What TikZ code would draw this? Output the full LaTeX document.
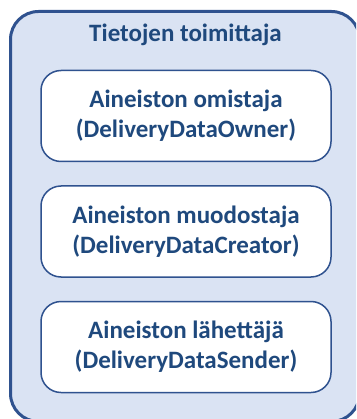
\documentclass[tikz,border=0pt]{standalone}
\usepackage{fontspec}
\setmainfont{Carlito}
\usepackage{tikz}
\usetikzlibrary{positioning}
\definecolor{darkblue}{HTML}{1F497D}
\definecolor{framblue}{HTML}{2F528F}
\definecolor{lightblue}{HTML}{DAE3F3}
\tikzset{
  outerbox/.style={draw=framblue, fill=lightblue, line width=3pt, rounded corners=28pt},
  rolebox/.style={draw=framblue, fill=white, line width=1.5pt, rounded corners=20pt,
    minimum width=290pt, minimum height=91pt, align=center, inner sep=0pt,
    text=darkblue, font=\fontsize{25}{30}\selectfont\bfseries},
  titletext/.style={text=darkblue, font=\fontsize{25}{30}\selectfont\bfseries}
}
\begin{document}
\begin{tikzpicture}[x=1pt,y=-1pt]
\useasboundingbox (0,0) rectangle (356,419);
\clip (0,0) rectangle (356,419);
\draw[outerbox] (10.5,11.5) rectangle (359.5,421.5);
\node[titletext, anchor=base] (title) at (185.5,42) {Tietojen toimittaja};
\node[rolebox] (owner) at (186,116) {Aineiston omistaja\\(DeliveryDataOwner)};
\node[rolebox, below=23pt of owner] (creator) {Aineiston muodostaja\\(DeliveryDataCreator)};
\node[rolebox, below=23pt of creator] (sender) {Aineiston lähettäjä\\(DeliveryDataSender)};
\end{tikzpicture}
\end{document}
